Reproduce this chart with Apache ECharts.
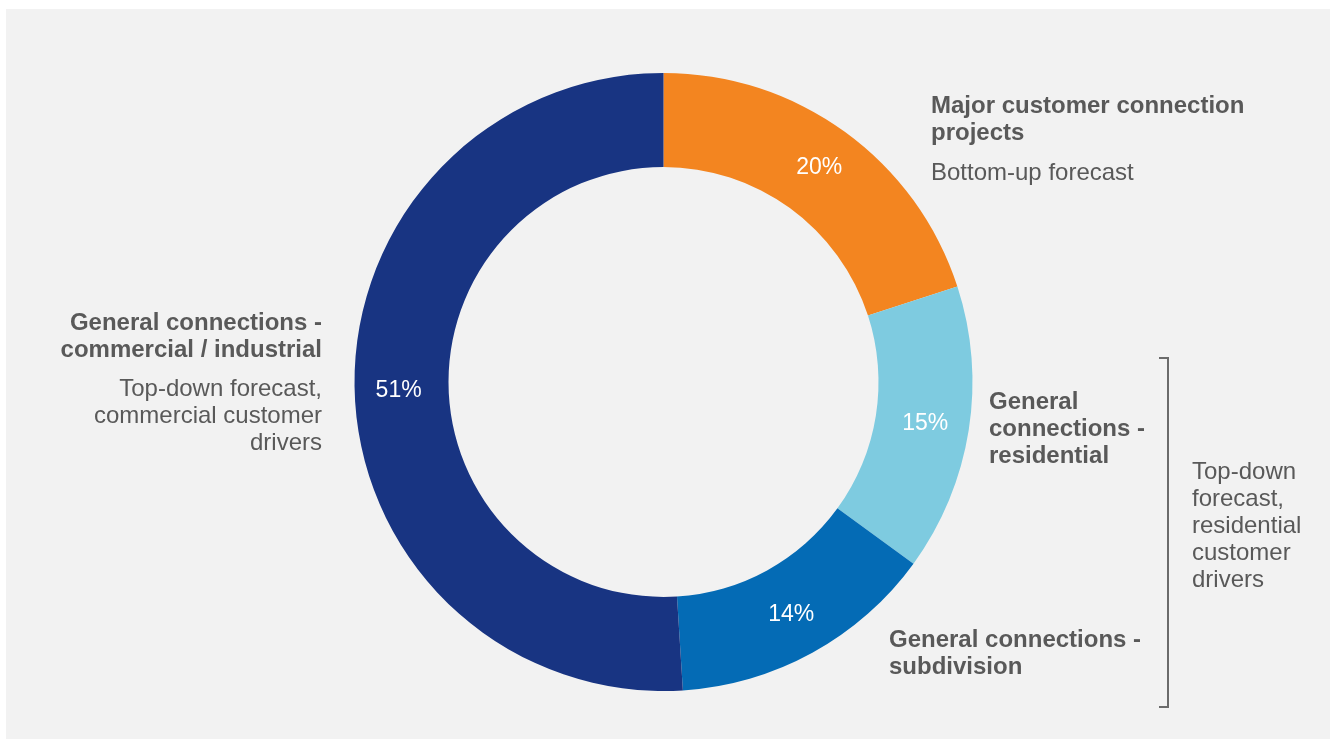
<!DOCTYPE html>
<html>
<head>
<meta charset="utf-8">
<script src="https://cdn.jsdelivr.net/npm/echarts@6/dist/echarts.min.js"></script>
<style>
  html, body { margin: 0; padding: 0; background: #ffffff; }
  #panel { position: absolute; left: 6px; top: 9px; width: 1324px; height: 730px; background: #f2f2f2; }
  #chart { position: absolute; left: 0; top: 0; width: 1335px; height: 749px; }
</style>
</head>
<body>
<div id="panel"></div>
<div id="chart"></div>
<script>
// Share of connection forecast by segment (%)
const segments = [
  'Major customer connection projects',
  'General connections - residential',
  'General connections - subdivision',
  'General connections - commercial / industrial'
];
const shares = [20, 15, 14, 51];
const segmentColors = ['#f38520', '#7ecbe0', '#046bb5', '#183482'];

const FONT = '"Liberation Sans", Arial, sans-serif';
const TEXT_GREY = '#595959';

function textBlock(lines, x, yFirst, bold, align) {
  return {
    type: 'text',
    x: x,
    y: yFirst - 13.5,
    silent: true,
    style: {
      text: lines.join('\n'),
      font: (bold ? 'bold ' : '') + '24px ' + FONT,
      fill: TEXT_GREY,
      textAlign: align || 'left',
      textVerticalAlign: 'top',
      lineHeight: 27
    }
  };
}

const chart = echarts.init(document.getElementById('chart'), null, { renderer: 'canvas' });

chart.setOption({
  animation: false,
  backgroundColor: 'transparent',
  series: [{
    type: 'pie',
    center: [663.5, 382],
    radius: [215, 309],
    startAngle: 90,
    clockwise: true,
    silent: true,
    data: segments.map((name, i) => ({
      name: name,
      value: shares[i],
      itemStyle: { color: segmentColors[i] }
    })),
    label: {
      show: true,
      position: 'inside',
      formatter: '{c}%',
      color: '#ffffff',
      fontSize: 23,
      fontFamily: FONT
    },
    labelLine: { show: false }
  }],
  graphic: [
    textBlock(['Major customer connection', 'projects'], 931, 106, true),
    textBlock(['Bottom-up forecast'], 931, 173, false),
    textBlock(['General connections -', 'commercial / industrial'], 322, 323, true, 'right'),
    textBlock(['Top-down forecast,', 'commercial customer', 'drivers'], 322, 389, false, 'right'),
    textBlock(['General', 'connections -', 'residential'], 989, 402, true),
    textBlock(['General connections -', 'subdivision'], 889, 640, true),
    textBlock(['Top-down', 'forecast,', 'residential', 'customer', 'drivers'], 1192, 472, false),
    {
      type: 'polyline',
      silent: true,
      shape: { points: [[1159, 358], [1168, 358], [1168, 707], [1159, 707]] },
      style: { stroke: '#6b6b6b', lineWidth: 2, fill: null }
    }
  ]
});
</script>
</body>
</html>
